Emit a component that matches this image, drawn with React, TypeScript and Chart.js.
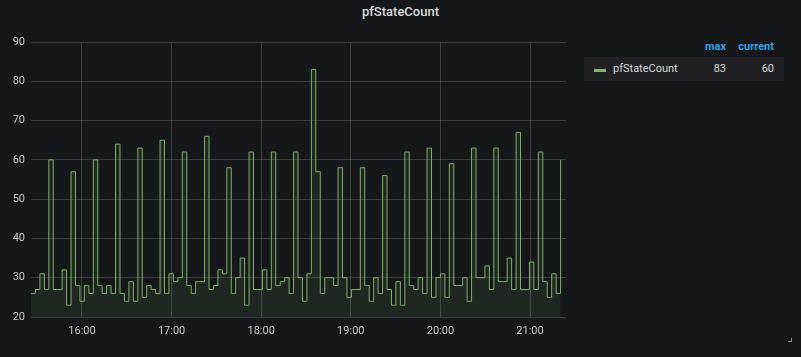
import React, { useEffect, useRef } from "react";
import { Chart, registerables } from "chart.js";

Chart.register(...registerables);

// pfStateCount samples, one every ~3 minutes from about 15:25 to 21:23
const seriesValues: number[] = [
  26, 27, 31, 27, 60, 27, 27, 32, 23, 57, 28, 24, 28, 26, 60, 28, 26, 28, 26, 64,
  26, 24, 29, 24, 63, 25, 28, 27, 26, 65, 26, 31, 29, 30, 62, 28, 26, 29, 29, 66,
  27, 28, 32, 31, 58, 26, 30, 35, 23, 62, 27, 27, 32, 27, 62, 28, 29, 30, 26, 62,
  30, 24, 31, 83, 57, 26, 30, 30, 28, 58, 30, 25, 27, 27, 58, 28, 24, 30, 26, 56,
  27, 23, 29, 23, 62, 28, 27, 30, 26, 63, 25, 30, 31, 25, 59, 28, 28, 30, 24, 63,
  30, 30, 33, 27, 63, 29, 29, 35, 27, 67, 27, 27, 34, 27, 62, 29, 25, 31, 26, 60,
];

// time axis, in minutes after midnight
const firstSampleMinute = 925.85;
const sampleIntervalMinutes = 2.98;
const axisEndMinute = 1284.1;
const sampleMinutes: number[] = seriesValues.map((_, i) => firstSampleMinute + i * sampleIntervalMinutes);

const hourTickMinutes: number[] = [960, 1020, 1080, 1140, 1200, 1260];
const hourTickLabels: string[] = ["16:00", "17:00", "18:00", "19:00", "20:00", "21:00"];

const yTicks: number[] = [20, 30, 40, 50, 60, 70, 80, 90];

const seriesName = "pfStateCount";
const legendMax = 83;
const legendCurrent = 60;

const FONT = "Roboto, 'Helvetica Neue', Arial, sans-serif";

export default function App() {
  const canvasRef = useRef<HTMLCanvasElement | null>(null);

  useEffect(() => {
    if (!canvasRef.current) return;
    const chart = new Chart(canvasRef.current, {
      type: "line",
      data: {
        datasets: [
          {
            label: seriesName,
            data: sampleMinutes.map((t, i) => ({ x: t, y: seriesValues[i] })),
            borderColor: "#7eb26d",
            backgroundColor: "rgba(126,178,109,0.1)",
            borderWidth: 1,
            pointRadius: 0,
            stepped: "before",
            fill: "start",
          },
        ],
      },
      options: {
        animation: false,
        responsive: false,
        maintainAspectRatio: false,
        layout: { padding: { top: 42, left: 0, right: 0, bottom: 0 } },
        plugins: {
          legend: { display: false },
          title: { display: false },
          tooltip: { enabled: false },
        },
        scales: {
          x: {
            type: "linear",
            min: firstSampleMinute,
            max: axisEndMinute,
            afterFit: (s: any) => {
              s.height = 40;
            },
            afterBuildTicks: (s: any) => {
              s.ticks = hourTickMinutes.map((v) => ({ value: v }));
            },
            border: { display: false },
            grid: { color: "rgba(255,255,255,0.17)", drawTicks: false, lineWidth: 1 },
            ticks: {
              color: "#c8c9ca",
              font: { family: FONT, size: 11 },
              padding: 8,
              maxRotation: 0,
              autoSkip: false,
              callback: (v: any) => {
                const idx = hourTickMinutes.indexOf(Number(v));
                return idx >= 0 ? hourTickLabels[idx] : "";
              },
            },
          },
          y: {
            min: 20,
            max: 90,
            afterFit: (s: any) => {
              s.width = 31;
            },
            afterBuildTicks: (s: any) => {
              s.ticks = yTicks.map((v) => ({ value: v }));
            },
            border: { display: false },
            grid: { color: "rgba(255,255,255,0.17)", drawTicks: false, lineWidth: 1 },
            ticks: {
              color: "#c8c9ca",
              font: { family: FONT, size: 11 },
              padding: 6,
            },
          },
        },
      },
    });
    return () => chart.destroy();
  }, []);

  return (
    <div
      style={{
        position: "fixed",
        left: 0,
        top: 0,
        width: 801,
        height: 357,
        background: "#161719",
        fontFamily: FONT,
        overflow: "hidden",
      }}
    >
      <div
        style={{
          position: "absolute",
          left: 0,
          top: 3,
          width: 801,
          textAlign: "center",
          color: "#d8d9da",
          fontSize: 13,
          fontWeight: 500,
          lineHeight: "18px",
        }}
      >
        {seriesName}
      </div>
      <canvas
        ref={canvasRef}
        width={566}
        height={357}
        style={{ position: "absolute", left: 0, top: 0, width: 566, height: 357 }}
      />
      <div
        style={{
          position: "absolute",
          left: 690,
          top: 39,
          width: 36,
          textAlign: "right",
          color: "#33a2e5",
          fontSize: 11,
          fontWeight: 700,
          lineHeight: "16px",
        }}
      >
        max
      </div>
      <div
        style={{
          position: "absolute",
          left: 728,
          top: 39,
          width: 46,
          textAlign: "right",
          color: "#33a2e5",
          fontSize: 11,
          fontWeight: 700,
          lineHeight: "16px",
        }}
      >
        current
      </div>
      <div
        style={{
          position: "absolute",
          left: 584,
          top: 57,
          width: 200,
          height: 24,
          background: "#212124",
        }}
      />
      <div
        style={{
          position: "absolute",
          left: 594,
          top: 69,
          width: 12,
          height: 3,
          background: "#7eb26d",
        }}
      />
      <div
        style={{
          position: "absolute",
          left: 613,
          top: 61,
          color: "#d8d9da",
          fontSize: 11,
          lineHeight: "16px",
        }}
      >
        {seriesName}
      </div>
      <div
        style={{
          position: "absolute",
          left: 690,
          top: 61,
          width: 36,
          textAlign: "right",
          color: "#d8d9da",
          fontSize: 11,
          lineHeight: "16px",
        }}
      >
        {legendMax}
      </div>
      <div
        style={{
          position: "absolute",
          left: 728,
          top: 61,
          width: 46,
          textAlign: "right",
          color: "#d8d9da",
          fontSize: 11,
          lineHeight: "16px",
        }}
      >
        {legendCurrent}
      </div>
      <div
        style={{
          position: "absolute",
          left: 788,
          top: 338,
          width: 3,
          height: 3,
          borderRight: "1px solid #8e8e8e",
          borderBottom: "1px solid #8e8e8e",
        }}
      />
    </div>
  );
}
